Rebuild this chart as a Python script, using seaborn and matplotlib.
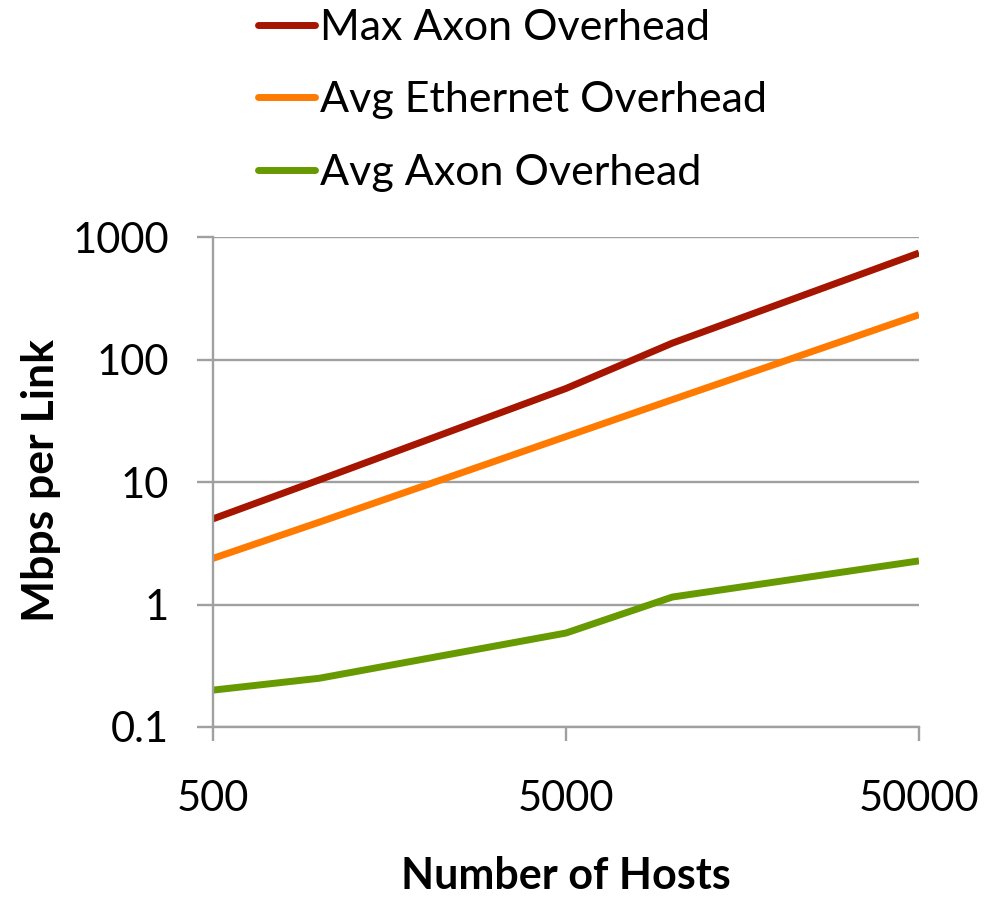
import matplotlib
matplotlib.use("Agg")
import matplotlib.pyplot as plt
import seaborn as sns
import pandas as pd

# Per-link overhead vs. cluster size
hosts = [500, 1000, 5000, 10000, 50000]
max_axon = [5.0, 10.4, 58, 136, 740]
avg_ethernet = [2.38, 4.7, 23.5, 47, 232]
avg_axon = [0.20, 0.25, 0.585, 1.15, 2.27]

series_names = ["Max Axon Overhead", "Avg Ethernet Overhead", "Avg Axon Overhead"]
series_colors = ["#A51500", "#FF7A00", "#669A00"]

x_ticks = [500, 5000, 50000]
x_tick_labels = ["500", "5000", "50000"]
y_ticks = [0.1, 1, 10, 100, 1000]
y_tick_labels = ["0.1", "1", "10", "100", "1000"]

df = pd.DataFrame({
    "hosts": hosts * 3,
    "mbps": max_axon + avg_ethernet + avg_axon,
    "series": [series_names[0]] * len(hosts)
              + [series_names[1]] * len(hosts)
              + [series_names[2]] * len(hosts),
})

sns.set_theme(style="white")
plt.rcParams["font.family"] = ["Lato", "DejaVu Sans"]
plt.rcParams["text.color"] = "black"

grey = "#A0A0A0"
W, H = 998, 898
fig = plt.figure(figsize=(W / 100, H / 100), dpi=100)
ax = fig.add_axes([213 / W, 1 - 727 / H, 706 / W, 490 / H])

sns.lineplot(data=df, x="hosts", y="mbps", hue="series", hue_order=series_names,
             palette=series_colors, linewidth=5, ax=ax, legend=True,
             solid_joinstyle="round", solid_capstyle="butt")

ax.set_xscale("log")
ax.set_yscale("log")
ax.set_xlim(500, 50000)
ax.set_ylim(0.1, 1000)

ax.set_xticks(x_ticks)
ax.set_xticklabels(x_tick_labels)
ax.set_yticks(y_ticks)
ax.set_yticklabels(y_tick_labels)
ax.minorticks_off()

ax.yaxis.grid(True, color=grey, linewidth=1.7)
ax.xaxis.grid(False)
ax.set_axisbelow(True)
for side in ["top", "right"]:
    ax.spines[side].set_visible(False)
for side in ["left", "bottom"]:
    ax.spines[side].set_color(grey)
    ax.spines[side].set_linewidth(1.7)

ax.tick_params(axis="y", which="major", direction="out", length=11.5, width=1.7,
               color=grey, pad=20, labelsize=30, labelcolor="black", left=True)
ax.tick_params(axis="x", which="major", direction="out", length=10, width=1.7,
               color=grey, pad=28, labelsize=30, labelcolor="black", bottom=True)

ax.set_xlabel("")
ax.set_ylabel("")
fig.text(566 / W, 1 - 889 / H, "Number of Hosts", ha="center", va="baseline",
         fontsize=31, fontweight="bold", color="black")
fig.text(54 / W, 1 - 481 / H, "Mbps per Link", ha="center", va="baseline",
         rotation=90, rotation_mode="anchor", fontsize=32, fontweight="bold",
         color="black")

handles, labels = ax.get_legend_handles_labels()
ax.get_legend().remove()
leg = fig.legend(handles, labels, loc="upper left",
                 bbox_to_anchor=(258 / W, 1 - 9 / H), bbox_transform=fig.transFigure,
                 frameon=False, fontsize=31, handlelength=1.33, handletextpad=0.1,
                 labelspacing=0.8, borderpad=0, borderaxespad=0)
for text in leg.get_texts():
    text.set_color("black")
for line in leg.get_lines():
    line.set_linewidth(5)
    line.set_solid_capstyle("round")

fig.savefig("out.png", dpi=100)
